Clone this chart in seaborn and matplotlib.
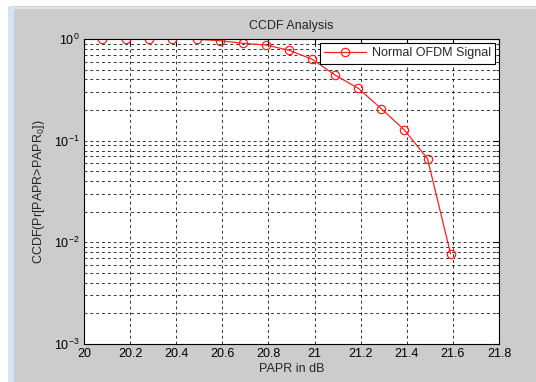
import matplotlib
matplotlib.use("Agg")
import matplotlib.pyplot as plt
import seaborn as sns
import numpy as np
from matplotlib.patches import Rectangle
from matplotlib.ticker import LogLocator, FixedLocator

papr_db = [20.08, 20.18, 20.28, 20.38, 20.49, 20.59, 20.69, 20.79,
           20.89, 20.99, 21.09, 21.19, 21.29, 21.39, 21.49, 21.59]
ccdf = [1.0, 1.0, 1.0, 1.0, 0.993, 0.962, 0.907, 0.873,
        0.774, 0.632, 0.44, 0.327, 0.206, 0.127, 0.0665, 0.0077]
series_label = "Normal OFDM Signal"
x_ticks = [20, 20.2, 20.4, 20.6, 20.8, 21, 21.2, 21.4, 21.6, 21.8]
x_tick_labels = ["20", "20.2", "20.4", "20.6", "20.8", "21", "21.2", "21.4", "21.6", "21.8"]

sns.set_style("white")
plt.rcParams['font.family'] = ['Liberation Sans', 'DejaVu Sans']
plt.rcParams['mathtext.fontset'] = 'custom'
plt.rcParams['mathtext.rm'] = 'Liberation Sans'
plt.rcParams['mathtext.it'] = 'Liberation Sans:italic'
plt.rcParams['mathtext.bf'] = 'Liberation Sans:bold'

bg = '#cccccc'
fig = plt.figure(figsize=(5.36, 3.82), dpi=100, facecolor=bg)
W, H = 536, 382
# window decorations: white top strip, thin line, left white + blue strip
fig.patches.append(Rectangle((0, 1 - 6 / H), 1, 6 / H, transform=fig.transFigure,
                             facecolor='white', edgecolor='none', zorder=-1))
fig.patches.append(Rectangle((0, 1 - 9 / H), 1, 2 / H, transform=fig.transFigure,
                             facecolor='#e4e4e4', edgecolor='none', zorder=-1))
fig.patches.append(Rectangle((0, 0), 8 / W, 1, transform=fig.transFigure,
                             facecolor='white', edgecolor='none', zorder=-1))
fig.patches.append(Rectangle((8 / W, 0), 6 / W, 1 - 6 / H, transform=fig.transFigure,
                             facecolor='#d6e4f2', edgecolor='none', zorder=-1))

ax = fig.add_axes([84 / W, 38 / H, 415 / W, 305 / H])
ax.set_facecolor('white')

sns.lineplot(x=papr_db, y=ccdf, ax=ax, color='#ff2020', linewidth=0.9,
             marker='o', markersize=6, markerfacecolor='none',
             markeredgecolor='#ff2020', markeredgewidth=0.9, label=series_label)

ax.set_yscale('log')
ax.set_xlim(20, 21.8)
ax.set_ylim(1e-3, 1)
ax.xaxis.set_major_locator(FixedLocator(x_ticks))
ax.set_xticklabels(x_tick_labels)
ax.yaxis.set_major_locator(LogLocator(base=10, numticks=10))
ax.yaxis.set_minor_locator(LogLocator(base=10, subs=np.arange(2, 10), numticks=10))

grid_kw = dict(color='black', linestyle=(0, (3, 3)), linewidth=0.7, alpha=0.8)
ax.grid(True, which='major', axis='both', **grid_kw)
ax.grid(True, which='minor', axis='y', **grid_kw)

ax.tick_params(axis='both', which='both', direction='in', labelsize=9,
               colors='black', top=True, right=True)
ax.tick_params(axis='both', which='major', length=4, pad=3)
ax.tick_params(axis='y', which='minor', length=2)
for sp in ax.spines.values():
    sp.set_visible(True)
    sp.set_color('black')
    sp.set_linewidth(0.8)

ax.set_title("CCDF Analysis", fontsize=9, pad=7)
ax.set_xlabel("PAPR in dB", fontsize=9, labelpad=2)
ax.set_ylabel(r"CCDF(Pr[PAPR>PAPR$_0$])", fontsize=9, labelpad=5)

leg = ax.legend(loc='upper right', fontsize=9, frameon=True, fancybox=False,
                framealpha=1, edgecolor='black', borderpad=0.35,
                handlelength=3.3, handletextpad=0.5, borderaxespad=0.3)
leg.get_frame().set_linewidth(0.8)

fig.savefig("out.png", dpi=100, facecolor=fig.get_facecolor())
